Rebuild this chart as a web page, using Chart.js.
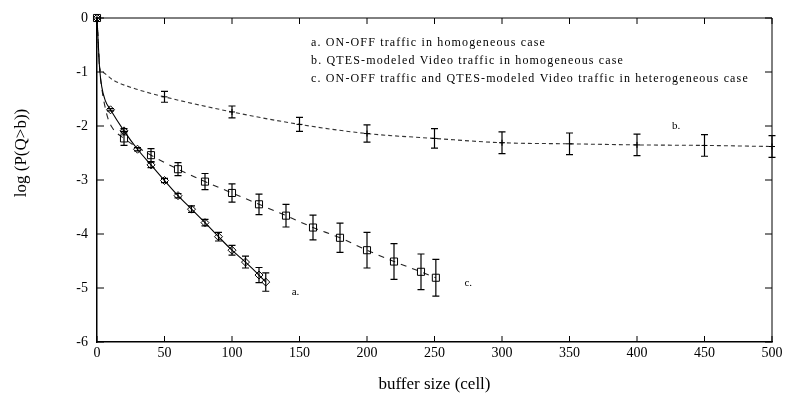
<!DOCTYPE html>
<html>
<head>
<meta charset="utf-8">
<script src="https://cdn.jsdelivr.net/npm/chart.js@4.4.1/dist/chart.umd.min.js"></script>
<style>
    html, body { margin: 0; padding: 0; background: #fff; }
    #wrap { width: 786px; height: 402px; position: relative; }
</style>
</head>
<body>
<div id="wrap"><canvas id="chart"></canvas></div>
<script>
// --- Data ---
// a. ON-OFF traffic in homogeneous case (solid line, diamonds)
const aHeadX = [1, 2, 3.5, 6];
const aHeadY = [-0.5, -0.95, -1.27, -1.52];
const aX   = [0, 10, 20, 30, 40, 50, 60, 70, 80, 90, 100, 110, 120, 125];
const aY   = [0, -1.70, -2.09, -2.43, -2.72, -3.01, -3.29, -3.54, -3.79, -4.05, -4.30, -4.52, -4.76, -4.89];
const aErr = [0, 0.02, 0.04, 0.03, 0.05, 0.04, 0.04, 0.06, 0.06, 0.08, 0.09, 0.11, 0.14, 0.17];

// b. QTES-modeled Video traffic in homogeneous case (short dashes, plus marks)
const bHeadX = [2, 4, 12, 27];
const bHeadY = [-0.93, -1.0, -1.15, -1.3];
const bX   = [0, 50, 100, 150, 200, 250, 300, 350, 400, 450, 500];
const bY   = [0, -1.46, -1.74, -1.97, -2.14, -2.23, -2.31, -2.33, -2.35, -2.36, -2.38];
const bErr = [0, 0.10, 0.11, 0.13, 0.16, 0.18, 0.20, 0.20, 0.20, 0.20, 0.20];

// c. ON-OFF + QTES video in heterogeneous case (long dashes, squares)
const cHeadX = [2, 4, 6, 8, 11];
const cHeadY = [-0.95, -1.38, -1.65, -1.85, -2.02];
const cX   = [0, 20, 40, 60, 80, 100, 120, 140, 160, 180, 200, 220, 240, 251];
const cY   = [0, -2.23, -2.54, -2.80, -3.03, -3.24, -3.45, -3.66, -3.88, -4.07, -4.30, -4.51, -4.70, -4.81];
const cErr = [0, 0.13, 0.12, 0.12, 0.15, 0.17, 0.19, 0.21, 0.23, 0.27, 0.33, 0.33, 0.33, 0.34];

const legendLines = [
    'a. ON-OFF traffic in homogeneous case',
    'b. QTES-modeled Video traffic in homogeneous case',
    'c. ON-OFF traffic and QTES-modeled Video traffic in heterogeneous case'
];
const xTitle = 'buffer size (cell)';
const yTitle = 'log (P(Q>b))';

const FONT = '"Liberation Serif", "Times New Roman", serif';

// merge unmarked curve points with the measured (marked) points
function buildSeries(headX, headY, xs, ys, errs, radius) {
    const pts = [];
    headX.forEach((x, i) => pts.push({ x: x, y: headY[i], r: 0, e: null }));
    xs.forEach((x, i) => pts.push({ x: x, y: ys[i], r: radius, e: errs[i] }));
    pts.sort((p, q) => p.x - q.x);
    return {
        data: pts.map(p => ({ x: p.x, y: p.y })),
        radius: pts.map(p => p.r),
        errors: pts.map(p => p.e)
    };
}

const serA = buildSeries(aHeadX, aHeadY, aX, aY, aErr, 4);
const serB = buildSeries(bHeadX, bHeadY, bX, bY, bErr, 3);
const serC = buildSeries(cHeadX, cHeadY, cX, cY, cErr, 5);

// error bars drawn through the chart's scales
const errorBarPlugin = {
    id: 'errorBars',
    afterDatasetsDraw(chart) {
        const { ctx, scales: { x, y } } = chart;
        ctx.save();
        ctx.strokeStyle = '#000';
        ctx.lineWidth = 1.2;
        chart.data.datasets.forEach(ds => {
            ds.data.forEach((p, i) => {
                const e = ds.errors[i];
                if (!e) return;
                const px = x.getPixelForValue(p.x);
                const top = y.getPixelForValue(p.y + e);
                const bot = y.getPixelForValue(p.y - e);
                ctx.beginPath();
                ctx.moveTo(px, top); ctx.lineTo(px, bot);
                ctx.moveTo(px - 3.5, top); ctx.lineTo(px + 3.5, top);
                ctx.moveTo(px - 3.5, bot); ctx.lineTo(px + 3.5, bot);
                ctx.stroke();
            });
        });
        ctx.restore();
    }
};

// frame, inward ticks, titles and text labels
const framePlugin = {
    id: 'frame',
    afterDraw(chart) {
        const { ctx, chartArea: a, scales: { x, y } } = chart;
        ctx.save();
        ctx.strokeStyle = '#000';
        ctx.lineWidth = 1;
        ctx.beginPath();
        ctx.moveTo(a.left, a.top); ctx.lineTo(a.right, a.top); ctx.lineTo(a.right, a.bottom);
        x.ticks.forEach(t => {
            const px = x.getPixelForValue(t.value);
            ctx.moveTo(px, a.bottom); ctx.lineTo(px, a.bottom - 6);
            ctx.moveTo(px, a.top); ctx.lineTo(px, a.top + 6);
        });
        y.ticks.forEach(t => {
            const py = y.getPixelForValue(t.value);
            ctx.moveTo(a.left, py); ctx.lineTo(a.left + 7, py);
            ctx.moveTo(a.right, py); ctx.lineTo(a.right - 7, py);
        });
        ctx.stroke();

        ctx.fillStyle = '#000';
        ctx.textBaseline = 'middle';

        // axis titles
        ctx.font = '17px ' + FONT;
        ctx.textAlign = 'center';
        ctx.fillText(xTitle, (a.left + a.right) / 2, 385);
        ctx.save();
        ctx.translate(22, 153);
        ctx.rotate(-Math.PI / 2);
        ctx.fillText(yTitle, 0, 0);
        ctx.restore();

        // key text
        ctx.font = '12px ' + FONT;
        ctx.textAlign = 'left';
        ctx.letterSpacing = '1.15px';
        legendLines.forEach((s, i) => ctx.fillText(s, 311, 43 + i * 18));
        ctx.letterSpacing = '0px';

        // curve tags
        ctx.font = '11px ' + FONT;
        ctx.textAlign = 'center';
        ctx.fillText('a.', x.getPixelForValue(147), y.getPixelForValue(-5.07));
        ctx.fillText('b.', x.getPixelForValue(429), y.getPixelForValue(-2.0));
        ctx.fillText('c.', x.getPixelForValue(275), y.getPixelForValue(-4.91));
        ctx.restore();
    }
};

function seriesDataset(ser, style, dash, color) {
    return {
        data: ser.data,
        errors: ser.errors,
        showLine: true,
        borderColor: color,
        borderWidth: 1.1,
        borderDash: dash,
        cubicInterpolationMode: 'monotone',
        pointStyle: style,
        pointRadius: ser.radius,
        pointBorderColor: '#000',
        pointBackgroundColor: 'rgba(0,0,0,0)',
        pointBorderWidth: 1,
        clip: false
    };
}

new Chart(document.getElementById('chart'), {
    type: 'scatter',
    data: {
        datasets: [
            seriesDataset(serA, 'rectRot', [], '#000'),
            seriesDataset(serB, 'cross', [4, 3], '#333'),
            seriesDataset(serC, 'rect', [6, 6], '#222')
        ]
    },
    options: {
        responsive: true,
        maintainAspectRatio: false,
        animation: false,
        events: [],
        layout: { padding: { top: 18, right: 14, left: 0, bottom: 0 } },
        plugins: {
            legend: { display: false },
            tooltip: { enabled: false }
        },
        scales: {
            x: {
                type: 'linear',
                min: 0, max: 500,
                afterFit: s => { s.height = 60; },
                ticks: { stepSize: 50, color: '#000', padding: 3, maxRotation: 0, font: { family: FONT, size: 14 } },
                grid: { display: false, drawTicks: false },
                border: { display: true, color: '#000', width: 1.5 }
            },
            y: {
                type: 'linear',
                min: -6, max: 0,
                afterFit: s => { s.width = 97; },
                ticks: { stepSize: 1, color: '#000', padding: 9, font: { family: FONT, size: 14 } },
                grid: { display: false, drawTicks: false },
                border: { display: true, color: '#000', width: 1.5 }
            }
        }
    },
    plugins: [errorBarPlugin, framePlugin]
});
</script>
</body>
</html>
